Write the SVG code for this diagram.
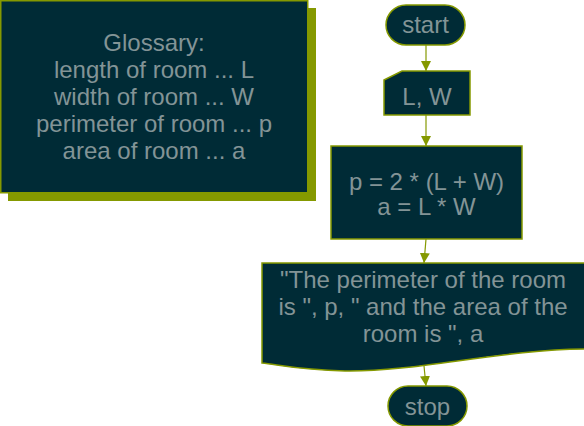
<svg xmlns="http://www.w3.org/2000/svg" width="584" height="426" viewBox="0 0 584 426">
<defs>
<style>
.n{fill:#002b36;stroke:#859900;stroke-width:1.5}
.t{fill:#839496;font-family:"Liberation Sans",Arial,sans-serif;font-size:24px;text-anchor:middle}
.c{stroke:#859900;stroke-width:1.2;fill:none}
</style>
<marker id="ah" viewBox="0 0 10 10" refX="10" refY="5" markerWidth="10" markerHeight="10" markerUnits="userSpaceOnUse" orient="auto">
<path d="M0,0 L10,5 L0,10 Z" fill="#859900"/>
</marker>
</defs>
<rect width="584" height="426" fill="#ffffff"/>
<g id="glossary">
<rect x="8" y="8" width="308" height="193" fill="#859900"/>
<rect x="0.75" y="0.75" width="307" height="192" class="n"/>
<text class="t"><tspan x="154" y="51">Glossary:</tspan><tspan x="154" y="78">length of room ... L</tspan><tspan x="154" y="105">width of room ... W</tspan><tspan x="154" y="132">perimeter of room ... p</tspan><tspan x="154" y="159">area of room ... a</tspan></text>
</g>
<g id="connectors">
<line x1="426" y1="45" x2="426" y2="71" class="c" marker-end="url(#ah)"/>
<line x1="426" y1="115" x2="426" y2="146" class="c" marker-end="url(#ah)"/>
<line x1="426" y1="239" x2="424" y2="263" class="c" marker-end="url(#ah)"/>
<line x1="424" y1="366" x2="426" y2="386" class="c" marker-end="url(#ah)"/>
</g>
<g id="start">
<rect x="386" y="5" width="79" height="40" rx="20" ry="20" class="n"/>
<text class="t" x="425.5" y="33">start</text>
</g>
<g id="input">
<path d="M384,80 L402,71 L470,71 L470,115 L384,115 Z" class="n"/>
<text class="t" x="427" y="105">L, W</text>
</g>
<g id="process">
<rect x="331" y="146" width="191" height="93" class="n"/>
<text class="t"><tspan x="426.5" y="190">p = 2 * (L + W)</tspan><tspan x="426.5" y="215">a = L * W</tspan></text>
</g>
<g id="output">
<path d="M262,263 L590,263 L590,349 C500,349 420,372 345,371 C300,370 280,365 262,363 Z" class="n"/>
<text class="t"><tspan x="423" y="288">"The perimeter of the room</tspan><tspan x="423" y="315">is ", p, " and the area of the</tspan><tspan x="423" y="342">room is ", a</tspan></text>
</g>
<g id="stop">
<rect x="388" y="386" width="79" height="40" rx="20" ry="20" class="n"/>
<text class="t" x="427.5" y="415">stop</text>
</g>
</svg>
